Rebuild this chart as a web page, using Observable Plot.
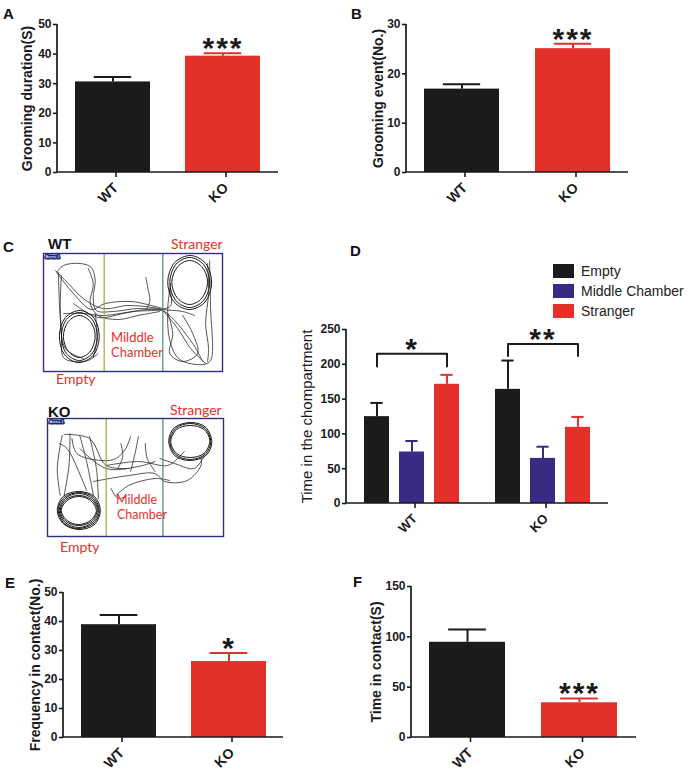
<!DOCTYPE html>
<html><head><meta charset="utf-8">
<script src="https://cdn.jsdelivr.net/npm/d3@7"></script>
<script src="https://cdn.jsdelivr.net/npm/@observablehq/plot@0.6"></script>
<style>
body{margin:0;background:#fff;}
#fig{position:relative;width:692px;height:781px;overflow:hidden;background:#fff;}
.t{position:absolute;line-height:1;white-space:nowrap;margin:0;}
.lgd-swatch{padding-bottom:4px !important;}
</style></head><body><div id="fig"></div><script>
// ---------- data ----------
const groups = ["WT", "KO"];
const groomDuration = [30.6, 39.3];
const groomDurationSem = [1.7, 1.0];
const groomEvents = [16.9, 25.1];
const groomEventsSem = [1.0, 1.0];
const contactFreq = [38.9, 26.2];
const contactFreqSem = [3.3, 2.9];
const contactTime = [94.6, 34.5];
const contactTimeSem = [12.6, 4.3];
const starsA = ["", "***"];
const starsB = ["", "***"];
const starsE = ["", "*"];
const starsF = ["", "***"];
const chambers = ["Empty", "Middle Chamber", "Stranger"];
const chamberTimeWT = [124.8, 74.0, 171.3];
const chamberTimeWTSem = [19.7, 15.8, 13.5];
const chamberTimeKO = [164.0, 64.8, 109.4];
const chamberTimeKOSem = [41.4, 16.8, 15.0];
const bracketStars = ["*", "**"];
const bracketTop = [215, 229];
const bracketLeg = [197, 212];
const ticksA = [0, 10, 20, 30, 40, 50];
const ticksB = [0, 10, 20, 30];
const ticksD = [0, 50, 100, 150, 200, 250];
const ticksE = [0, 10, 20, 30, 40, 50];
const ticksF = [0, 50, 100, 150];
// trajectory sketches (arena units, 180 x 118, y down)
const dividersWT = [61, 120];
const dividersKO = [60, 118];
const pathsWT = [
  [[13,19],[20,12],[37,10],[48,14],[52,27],[50,44],[53,57],[70,58],[95,55],[120,57]],
  [[15,19],[16,50],[18,80],[20,104],[30,108],[45,107],[55,100]],
  [[12,17],[25,30],[40,45],[60,55],[85,52],[110,54],[120,56],[140,58],[152,62]],
  [[20,60],[40,60],[61,62],[90,58],[118,56],[128,52],[127,35]],
  [[30,50],[55,64],[80,60],[103,56],[120,57],[150,90],[160,108]],
  [[103,24],[105,35],[107,47],[104,55]],
  [[167,7],[168,54],[168,107],[160,111],[137,106],[127,87],[125,54],[128,30]],
  [[120,57],[135,75],[148,95],[163,110]],
  [[45,15],[50,30],[47,50],[55,62],[75,66],[95,62],[117,58]],
  [[14,20],[30,40],[48,56],[62,50],[88,48],[100,50],[120,55]],
  [[125,60],[130,80],[127,100],[140,108],[155,100],[150,80],[140,62]],
  [[165,10],[166,40],[163,70],[166,95],[165,108]],
  [[18,22],[17,60],[22,95],[40,105]],
  [[52,60],[54,85],[50,104]]
];
const loopsWT = [
  [[54,83],[49,100],[36,107],[23,100],[18,83],[23,66],[36,59],[49,66]],
  [[56,84],[50,102],[35,109],[21,101],[16,82],[22,64],[37,57],[51,65]],
  [[52,82],[47,98],[36,104],[25,98],[20,83],[25,68],[36,62],[47,68]],
  [[167,29],[161,47],[147,54],[133,47],[127,29],[133,11],[147,4],[161,11]],
  [[169,30],[162,49],[146,56],[131,48],[125,28],[132,9],[148,2],[163,10]],
  [[165,28],[159,45],[147,51],[135,45],[129,29],[135,13],[147,7],[159,13]]
];
const pathsKO = [
  [[15,17],[10,50],[13,77]],
  [[23,15],[22,47],[17,77]],
  [[33,17],[40,43],[47,77]],
  [[43,18],[50,50],[52,80]],
  [[17,16],[43,20],[60,47],[83,50]],
  [[33,30],[60,50],[93,48],[110,43]],
  [[75,25],[77,38],[72,50]],
  [[93,18],[90,33],[85,53]],
  [[100,25],[102,40],[110,53]],
  [[47,63],[83,57],[110,55],[120,63],[143,62],[157,47],[157,40]],
  [[60,47],[93,43],[123,47],[133,40],[140,33]],
  [[70,77],[83,67],[110,60],[125,62]],
  [[25,20],[30,35],[55,42],[70,40],[80,30],[85,18]],
  [[12,25],[20,30],[35,60],[40,72]],
  [[65,70],[72,80],[80,78]],
  [[115,40],[130,45],[150,50],[160,38]]
];
const loopsKO = [
  [[52,92],[46,104],[32,109],[18,104],[12,92],[18,80],[32,75],[46,80]],
  [[53,93],[47,105],[31,110],[17,105],[11,91],[17,79],[33,74],[47,79]],
  [[51,91],[45,103],[32,107],[19,103],[13,92],[19,81],[32,77],[45,81]],
  [[50,92],[44,102],[32,106],[20,102],[14,92],[20,82],[32,78],[44,82]],
  [[54,92],[48,106],[32,111],[16,105],[10,92],[16,78],[32,73],[48,78]],
  [[167,23],[161,36],[146,41],[131,36],[125,23],[131,10],[146,5],[161,10]],
  [[168,24],[162,37],[145,42],[130,37],[124,22],[130,9],[147,4],[162,9]],
  [[166,22],[160,35],[146,39],[132,35],[126,23],[132,11],[146,7],[160,11]]
];

// ---------- styles ----------
const FONT = '"Liberation Sans", Arial, Helvetica, sans-serif';
const groupColors = ["#1b1b1b", "#e3302b"];
const chamberColors = ["#1b1b1b", "#3b2a84", "#e3302b"];
const AX = "#1a1a1a";
const STAR = 30;
const fig = document.getElementById("fig");

function place(node, left, top) {
  node.style.position = "absolute";
  node.style.left = left + "px";
  node.style.top = top + "px";
  fig.appendChild(node);
  return node;
}
function txt(s, x, cy, size, opt = {}) {
  const d = document.createElement("div");
  d.className = "t";
  d.textContent = s;
  const lato = opt.lato;
  d.style.fontFamily = lato ? 'Lato, "Open Sans", sans-serif' : FONT;
  d.style.fontSize = size + "px";
  d.style.fontWeight = opt.bold ? "bold" : "normal";
  d.style.color = opt.color || "#111";
  d.style.left = x + "px";
  d.style.top = (cy - (lato ? 0.53 : 0.49) * size) + "px";
  fig.appendChild(d);
}
function finish(chart, xKey) {
  const [x0, x1] = chart.scale(xKey).range;
  const [yb, yt] = chart.scale("y").range;
  d3.select(chart).append("path")
    .attr("d", `M${x0},${yt}V${yb}H${x1}`)
    .attr("fill", "none").attr("stroke", AX).attr("stroke-width", 1.7);
  d3.select(chart).selectAll(`g[font-size="${STAR}"] text`).attr("letter-spacing", "2px");
}

function barPanel(c) {
  const data = groups.map((g, i) => ({g, v: c.values[i], e: c.values[i] + c.sem[i], s: c.stars[i]}));
  const pi = 0.32, po = 0.16;
  const bw = (c.width - c.ml - c.mr) * (1 - pi) / (groups.length - pi + 2 * po);
  const chart = Plot.plot({
    width: c.width, height: c.height,
    marginLeft: c.ml, marginRight: c.mr, marginTop: c.mt, marginBottom: c.mb,
    style: {background: "transparent", fontFamily: FONT, color: AX, overflow: "visible"},
    x: {domain: groups, paddingInner: pi, paddingOuter: po, axis: null},
    y: {domain: [c.ticks[0], c.ticks[c.ticks.length - 1]], axis: null},
    color: {domain: groups, range: groupColors},
    marks: [
      Plot.barY(data, {x: "g", y: "v", fill: "g"}),
      Plot.ruleX(data, {x: "g", y1: "v", y2: "e", stroke: "g", strokeWidth: 2}),
      Plot.tickY(data, {x: "g", y: "e", stroke: "g", strokeWidth: 2, insetLeft: bw / 4, insetRight: bw / 4}),
      Plot.text(data, {x: "g", y: "e", text: "s", fontSize: STAR, fontWeight: "bold", lineAnchor: "bottom", dy: 5, fill: AX}),
      Plot.axisY({ticks: c.ticks, tickSize: 4, tickPadding: 2, fontSize: 12, fontWeight: "bold", label: null, strokeWidth: 1.6}),
      Plot.axisX({tickSize: 5, tickPadding: 8, dx: 3, tickRotate: -45, fontSize: 14, fontWeight: "bold", label: null, strokeWidth: 1.6}),
      Plot.text([c.label], {text: d => d, frameAnchor: "left", textAnchor: "middle", rotate: -90, dx: c.labelDx, fontSize: 14, fontWeight: "bold", fill: AX})
    ]
  });
  finish(chart, "x");
  place(chart, c.left, c.top);
}

barPanel({left: 0, top: 0, width: 346, height: 230, ml: 57, mr: 68, mt: 24, mb: 58,
  values: groomDuration, sem: groomDurationSem, stars: starsA, ticks: ticksA,
  label: "Grooming duration(S)", labelDx: -30});
barPanel({left: 346, top: 0, width: 346, height: 230, ml: 60, mr: 64, mt: 24, mb: 58,
  values: groomEvents, sem: groomEventsSem, stars: starsB, ticks: ticksB,
  label: "Grooming event(No.)", labelDx: -28});
barPanel({left: 0, top: 560, width: 346, height: 221, ml: 63, mr: 63, mt: 32, mb: 44,
  values: contactFreq, sem: contactFreqSem, stars: starsE, ticks: ticksE,
  label: "Frequency in contact(No.)", labelDx: -28});
barPanel({left: 346, top: 560, width: 346, height: 221, ml: 65, mr: 56, mt: 26, mb: 44,
  values: contactTime, sem: contactTimeSem, stars: starsF, ticks: ticksF,
  label: "Time in contact(S)", labelDx: -35});

// ---------- panel D ----------
const dData = [];
groups.forEach((g, gi) => chambers.forEach((c, ci) => {
  const v = gi === 0 ? chamberTimeWT[ci] : chamberTimeKO[ci];
  const s = gi === 0 ? chamberTimeWTSem[ci] : chamberTimeKOSem[ci];
  dData.push({g, c, v, e: v + s});
}));
const bracketData = groups.flatMap((g, i) => [
  {g, c: chambers[0], y: bracketLeg[i]}, {g, c: chambers[0], y: bracketTop[i]},
  {g, c: chambers[2], y: bracketTop[i]}, {g, c: chambers[2], y: bracketLeg[i]}
]);
const starData = groups.map((g, i) => ({g, c: chambers[1], y: bracketTop[i], s: bracketStars[i]}));
const chartD = Plot.plot({
  width: 402, height: 310, marginLeft: 56, marginRight: 84, marginTop: 99, marginBottom: 37,
  style: {background: "transparent", fontFamily: FONT, color: AX, overflow: "visible"},
  fx: {domain: groups, padding: 0, axis: null},
  x: {domain: chambers, paddingInner: 0.28, paddingOuter: 0.486, axis: null},
  y: {domain: [0, 250], axis: null},
  color: {domain: chambers, range: chamberColors},
  marks: [
    Plot.barY(dData, {fx: "g", x: "c", y: "v", fill: "c"}),
    Plot.ruleX(dData, {fx: "g", x: "c", y1: "v", y2: "e", stroke: "c", strokeWidth: 2}),
    Plot.tickY(dData, {fx: "g", x: "c", y: "e", stroke: "c", strokeWidth: 2, insetLeft: 6.4, insetRight: 6.4}),
    Plot.line(bracketData, {fx: "g", x: "c", y: "y", stroke: AX, strokeWidth: 2}),
    Plot.text(starData, {fx: "g", x: "c", y: "y", text: "s", fontSize: STAR, fontWeight: "bold", lineAnchor: "bottom", dy: 5, fill: AX}),
    Plot.axisY({ticks: ticksD, tickSize: 4, tickPadding: 2, fontSize: 12, fontWeight: "bold", label: null, strokeWidth: 1.6}),
    Plot.axisFx({anchor: "bottom", tickSize: 5, tickPadding: 8, dx: 3, tickRotate: -45, fontSize: 13, fontWeight: "bold", label: null, strokeWidth: 1.6}),
    Plot.text([{g: "WT", t: "Time in the chompartment"}], {fx: "g", text: "t", frameAnchor: "left", textAnchor: "middle", rotate: -90, dx: -39, fontSize: 15, fill: AX})
  ]
});
finish(chartD, "fx");
place(chartD, 290, 230);
const legendD = chartD.legend("color", {columns: 1, swatchWidth: 21, swatchHeight: 14, className: "lgd",
  style: {fontSize: "14px", fontFamily: FONT, color: "#222", margin: "0"}});
legendD.style.width = "140px";
place(legendD, 553, 263);

// ---------- panel C ----------
function arenaPlot(paths, loops, dividers, left, top, w, h) {
  const pathPts = paths.flatMap((p, id) => p.map(([x, y]) => ({id, x, y})));
  const loopPts = loops.flatMap((p, id) => p.map(([x, y]) => ({id, x, y})));
  const chart = Plot.plot({
    width: w, height: h, margin: 0,
    style: {background: "transparent", overflow: "visible"},
    x: {domain: [0, 180], axis: null},
    y: {domain: [0, 118], reverse: true, axis: null},
    marks: [
      Plot.line(pathPts, {x: "x", y: "y", z: "id", stroke: "#2a2a2a", strokeWidth: 0.8, curve: "catmull-rom"}),
      Plot.line(loopPts, {x: "x", y: "y", z: "id", stroke: "#151515", strokeWidth: 1, curve: "catmull-rom-closed"}),
      Plot.ruleX(dividers, {x: d => d, stroke: (d, i) => ["#a3a640", "#3f8f72"][i], strokeWidth: 1.2}),
      Plot.frame({stroke: "#2e3182", strokeWidth: 1.4}),
      Plot.text(["Arena 1"], {text: d => d, frameAnchor: "top-left", dx: 2, dy: 1.5, fontSize: 4, fill: "white", stroke: "#1f2a7a", strokeWidth: 3, fontFamily: FONT})
    ]
  });
  place(chart, left, top);
}
arenaPlot(pathsWT, loopsWT, dividersWT, 43, 253, 179, 118);
arenaPlot(pathsKO, loopsKO, dividersKO, 47, 418, 176, 118);

const RED = "#e8302a";
txt("WT", 48, 243, 15, {bold: true});
txt("Stranger", 171, 244, 14, {lato: true, color: RED});
txt("Milddle", 111, 338, 13, {lato: true, color: RED});
txt("Chamber", 111, 352.5, 13, {lato: true, color: RED});
txt("Empty", 56, 379.5, 14, {lato: true, color: RED});
txt("KO", 48, 411, 15, {bold: true});
txt("Stranger", 170, 410.5, 14, {lato: true, color: RED});
txt("Milddle", 116, 501, 12.5, {lato: true, color: RED});
txt("Chamber", 117, 515.5, 12.5, {lato: true, color: RED});
txt("Empty", 60, 547, 14, {lato: true, color: RED});

// ---------- panel letters ----------
txt("A", 3, 13, 15, {bold: true});
txt("B", 351, 13, 15, {bold: true});
txt("C", 3, 246, 15, {bold: true});
txt("D", 350, 250, 15, {bold: true});
txt("E", 5, 582, 15, {bold: true});
txt("F", 353, 581, 15, {bold: true});
</script></body></html>
